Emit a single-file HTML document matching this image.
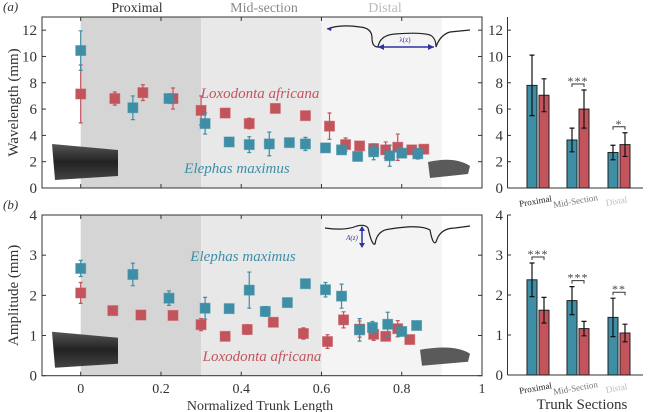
<!DOCTYPE html>
<html><head><meta charset="utf-8"><style>
body{margin:0;background:#fff;}
svg{display:block;font-family:"Liberation Serif",serif;}
</style></head><body>
<svg id="c" width="650" height="412" viewBox="0 0 650 412">
<defs>
<linearGradient id="tg" x1="0" y1="0" x2="0" y2="1"><stop offset="0" stop-color="#555"/><stop offset="0.5" stop-color="#222"/><stop offset="1" stop-color="#444"/></linearGradient>
</defs>
</svg>
<script>
// ---- data ----
const topBlueX=[0,0.13,0.22,0.31,0.37,0.42,0.47,0.52,0.56,0.61,0.65,0.69,0.73,0.77,0.80,0.84];
const topBlueY=[10.45,6.1,6.8,4.9,3.5,3.3,3.35,3.45,3.35,3.05,2.9,2.4,2.75,2.45,2.65,2.6];
const topBlueE=[1.5,0.9,0,0.8,0.2,0.6,0.9,0,0.5,0.3,0.3,0,0.6,0.8,0.2,0.4];
const topRedX=[0,0.085,0.155,0.23,0.30,0.36,0.42,0.485,0.56,0.62,0.66,0.695,0.73,0.76,0.79,0.825,0.855];
const topRedY=[7.15,6.8,7.25,6.8,5.9,5.7,4.9,6.05,5.5,4.7,3.3,3.2,3.0,2.9,3.1,2.9,2.95];
const topRedE=[2.2,0.5,0.6,0.8,1.1,0,0.4,0,0,1.0,0.5,0,0.3,0.6,1.0,0,0];
const botBlueX=[0,0.13,0.22,0.31,0.37,0.42,0.46,0.515,0.56,0.61,0.65,0.695,0.727,0.765,0.80,0.837];
const botBlueY=[2.67,2.52,1.93,1.68,1.67,2.13,1.6,1.82,2.29,2.14,1.98,1.14,1.2,1.28,1.1,1.25];
const botBlueE=[0.2,0.28,0.18,0.27,0,0.45,0.12,0,0.1,0.18,0.3,0.28,0.15,0.3,0.1,0.1];
const botRedX=[0,0.08,0.15,0.23,0.30,0.36,0.415,0.48,0.555,0.615,0.655,0.695,0.73,0.76,0.79,0.82];
const botRedY=[2.06,1.62,1.51,1.5,1.27,0.98,1.15,1.33,1.05,0.85,1.39,1.16,1.03,0.98,1.17,0.9];
const botRedE=[0.26,0.05,0.05,0,0.15,0,0.12,0,0.14,0.17,0.2,0.2,0.15,0,0.2,0];
const sections=["Proximal","Mid-Section","Distal"];
const barTopBlue=[7.8,3.65,2.7], barTopBlueE=[2.3,0.9,0.55];
const barTopRed=[7.05,6.0,3.3], barTopRedE=[1.25,1.45,0.9];
const barBotBlue=[2.38,1.86,1.44], barBotBlueE=[0.42,0.35,0.48];
const barBotRed=[1.62,1.16,1.05], barBotRedE=[0.32,0.18,0.22];
const sigTop=["","***","*"], sigBot=["***","***","**"];
const xTicks=[0,0.2,0.4,0.6,0.8,1];
const yTicksTop=[0,2,4,6,8,10,12], yTicksBot=[0,1,2,3,4];

const B="#3e8ea6", R="#c4545c";
const svg=document.getElementById('c');
const NS="http://www.w3.org/2000/svg";
function mk(tag,at,parent){const e=document.createElementNS(NS,tag);for(const k in at)e.setAttribute(k,at[k]);(parent||svg).appendChild(e);return e;}
function tx(s,x,y,at,name){const e=mk('text',Object.assign({x:x,y:y},at));e.textContent=s;return e;}

const xs=v=>80.7+v*401.3;
function panel(id,top,bot,ymax,bx,by,be,rx,ry,re,yt,title,labPos){
  const ys=v=>bot-v*(bot-top)/ymax;
  const g=mk('g',{});
  
  
  const shades=[[0,0.3,"#d5d5d5"],[0.3,0.6,"#e8e8e8"],[0.6,0.9,"#f4f4f4"]];
  shades.forEach((s,i)=>{const r=mk('rect',{x:xs(s[0]),y:top,width:xs(s[1])-xs(s[0]),height:bot-top,fill:s[2]},g);
    
    });
  const t1=mk('path',{d:`M52 ${bot-44} L118 ${bot-38} L118 ${bot-12} L55 ${bot-8} Z`,fill:"url(#tg)"},g);
  
  
  const t2=mk('path',{d:`M${id=='a'?428:420} ${bot-26} Q455 ${bot-32} 470 ${bot-22} L468 ${bot-14} L${id=='a'?430:422} ${bot-10} Z`,fill:"#5a5a5a"},g);
  
  
  const fr=mk('rect',{x:42,y:top,width:440,height:bot-top,fill:"none",stroke:"#333","stroke-width":1},g);
  
  
  xTicks.forEach(t=>{mk('line',{x1:xs(t),x2:xs(t),y1:bot,y2:bot-4,stroke:"#333"},g);mk('line',{x1:xs(t),x2:xs(t),y1:top,y2:top+4,stroke:"#333"},g);});
  yt.forEach(t=>{mk('line',{x1:42,x2:46,y1:ys(t),y2:ys(t),stroke:"#333"},g);mk('line',{x1:482,x2:478,y1:ys(t),y2:ys(t),stroke:"#333"},g);
    tx(String(t),37,ys(t)+5,{"text-anchor":"end","font-size":15,fill:"#333"},'y-tick-label');});
  function series(X,Y,E,col,nm){
    X.forEach((x,i)=>{
      if(E[i]>0){const l=mk('path',{d:`M${xs(x)} ${ys(Y[i]-E[i])}V${ys(Y[i]+E[i])}M${xs(x)-2} ${ys(Y[i]-E[i])}h4M${xs(x)-2} ${ys(Y[i]+E[i])}h4`,stroke:col,"stroke-width":1.2,fill:"none"},g);
        
        }
      const r=mk('rect',{x:xs(x)-5,y:ys(Y[i])-5,width:10,height:10,fill:col,stroke:col,"stroke-opacity":0.5,"stroke-width":1},g);
      
      
    });
  }
  series(rx,ry,re,R,'loxodonta');
  series(bx,by,be,B,'elephas');
  tx(title,18,(top+bot)/2,{"text-anchor":"middle","font-size":15,fill:"#333",transform:`rotate(-90 18 ${(top+bot)/2})`},'y-axis-title');
  tx("Loxodonta africana",labPos[0],labPos[1],{"text-anchor":"middle","font-size":15,"font-style":"italic",fill:R},'loxodonta-label');
  tx("Elephas maximus",labPos[2],labPos[3],{"text-anchor":"middle","font-size":15,"font-style":"italic",fill:B},'elephas-label');
  tx("("+id+")",3,top-6,{"font-size":13,"font-style":"italic",fill:"#333"},'panel-label');
  return ys;
}
panel('a',17,188,13,topBlueX,topBlueY,topBlueE,topRedX,topRedY,topRedE,yTicksTop,"Wavelength (mm)",[260,98,237,173]);
panel('b',215,375.7,4,botBlueX,botBlueY,botBlueE,botRedX,botRedY,botRedE,yTicksBot,"Amplitude (mm)",[262,361,243,261]);
tx("Proximal",137,12,{"text-anchor":"middle","font-size":14,fill:"#333"},'proximal-header');
tx("Mid-section",264,12,{"text-anchor":"middle","font-size":14,fill:"#888"},'mid-section-header');
tx("Distal",385,12,{"text-anchor":"middle","font-size":14,fill:"#bbb"},'distal-header');
xTicks.forEach(t=>tx(String(t),xs(t),393,{"text-anchor":"middle","font-size":14,fill:"#333"},'x-tick-label'));
tx("Normalized Trunk Length",260,410,{"text-anchor":"middle","font-size":14,fill:"#333"},'x-axis-title');
let w1=mk('path',{d:"M327 29 Q340 24 360 27 Q372 28 372 38 Q372 47 378 47 Q380 35 395 34 Q420 32 430 35 Q436 38 436 47 Q440 35 450 32 L470 30",fill:"none",stroke:"#222","stroke-width":1.2});


let a1=mk('path',{d:"M378 47 L434 47",stroke:"#2d35a0","stroke-width":1.5,fill:"none"});


mk('path',{d:"M378 47 l6 -3 v6z M434 47 l-6 -3 v6z M327 29 l5 -2 l-1 4z",fill:"#2d35a0"});
tx("λ(z)",405,42,{"text-anchor":"middle","font-size":7,fill:"#2d35a0"},'lambda-label');
let w2=mk('path',{d:"M325 228 Q345 231 357 226 Q365 224 368 228 Q372 246 375 244 Q377 230 390 229 Q420 224 430 230 Q433 246 436 242 Q440 228 455 228 L470 226",fill:"none",stroke:"#222","stroke-width":1.2});


mk('path',{d:"M362 227 V247",stroke:"#2d35a0","stroke-width":1.5});
mk('path',{d:"M362 226 l-3 5 h6z M362 248 l-3 -5 h6z",fill:"#2d35a0"});
tx("A(z)",352,240,{"text-anchor":"middle","font-size":7,"font-style":"italic",fill:"#2d35a0"},'amplitude-label');

const centers=[538,578,619];
function bars(top,bot,ymax,yt,bl,ble,rd,rde,sig,nm){
  const ys=v=>bot-v*(bot-top)/ymax;
  mk('line',{x1:507.5,x2:507.5,y1:top,y2:bot,stroke:"#333"});
  mk('line',{x1:507.5,x2:643,y1:bot,y2:bot,stroke:"#333"});
  yt.forEach(t=>{mk('line',{x1:507.5,x2:511,y1:ys(t),y2:ys(t),stroke:"#333"});
    tx(String(t),503,ys(t)+5,{"text-anchor":"end","font-size":15,fill:"#333"},nm+'-y-tick-label');});
  centers.forEach((c,i)=>{
    [[bl,ble,B,-11,'elephas'],[rd,rde,R,1,'loxodonta']].forEach(s=>{
      const v=s[0][i],e=s[1][i],x=c+s[3];
      const r=mk('rect',{x:x,y:ys(v),width:10,height:bot-ys(v),fill:s[2],stroke:"#222","stroke-width":1});
      
      
      const eb=mk('path',{d:`M${x+5} ${ys(v-e)}V${ys(v+e)}M${x+2.5} ${ys(v-e)}h5M${x+2.5} ${ys(v+e)}h5`,stroke:"#111","stroke-width":1.2,fill:"none"});
      
      
    });
    if(sig[i]){
      const hy=ys(Math.max(bl[i]+ble[i],rd[i]+rde[i]))-6;
      mk('path',{d:`M${c-6} ${hy+3}V${hy}H${c+6}V${hy+3}`,stroke:"#333",fill:"none","stroke-width":1});
      tx(sig[i],c,hy+1,{"text-anchor":"middle","font-size":12,fill:"#444","letter-spacing":"1"},'significance-marker');
    }
  });
  const cols=["#222","#777","#bbb"];
  centers.forEach((c,i)=>tx(sections[i],c-2,bot+16,{"text-anchor":"middle","font-size":9,fill:cols[i],transform:`rotate(-10 ${c-2} ${bot+16})`},'section-label'));
}
bars(17,188,13,yTicksTop,barTopBlue,barTopBlueE,barTopRed,barTopRedE,sigTop,'wavelength');
bars(215,375,4,yTicksBot,barBotBlue,barBotBlueE,barBotRed,barBotRedE,sigBot,'amplitude');
tx("Trunk Sections",582,409,{"text-anchor":"middle","font-size":15,fill:"#333"},'bar-x-axis-title');
</script>
</body></html>
